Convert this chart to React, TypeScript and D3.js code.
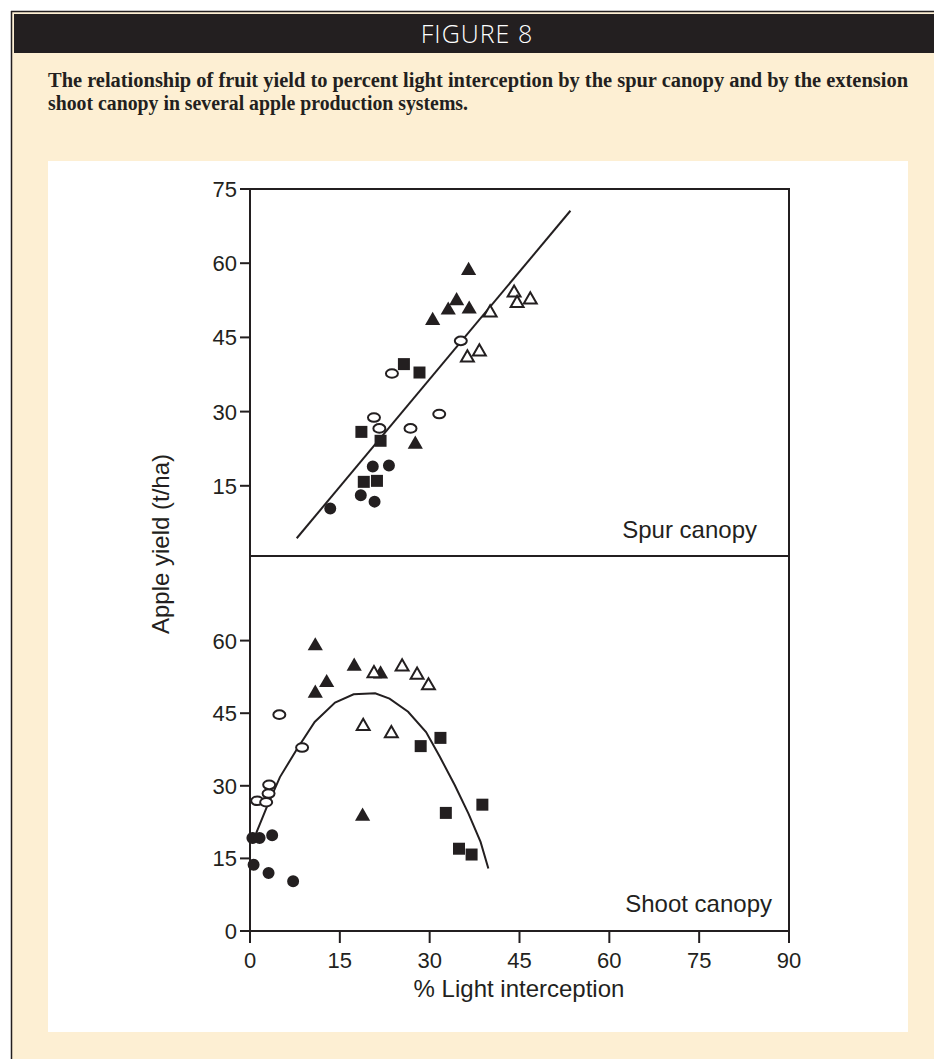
import { line, scaleLinear, symbol, symbolCircle, symbolSquare, symbolTriangle } from 'd3';

// values: [light interception %, yield t/ha]
const spurFilledCircle = [[13.4, 10.4], [18.5, 13.1], [20.8, 11.8], [20.5, 18.9], [23.2, 19.1]];
const spurFilledSquare = [[18.6, 25.9], [21.8, 24.1], [19.0, 15.8], [21.2, 16.0], [25.7, 39.6], [28.3, 37.9]];
const spurOpenCircle = [[23.7, 37.7], [20.7, 28.8], [21.6, 26.6], [26.8, 26.6], [31.6, 29.5], [35.2, 44.3]];
const spurFilledTriangle = [[27.6, 23.4], [30.5, 48.4], [33.1, 50.5], [34.5, 52.4], [36.6, 50.7], [36.5, 58.5]];
const spurOpenTriangle = [[36.3, 40.9], [38.3, 42.1], [40.1, 50.0], [44.1, 54.0], [44.6, 51.9], [46.8, 52.6]];
const spurFit = [[7.8, 4.4], [53.5, 70.6]];

const shootFilledCircle = [[0.4, 19.2], [1.6, 19.2], [3.7, 19.8], [0.6, 13.7], [3.1, 12.0], [7.2, 10.3]];
const shootOpenCircle = [[1.2, 26.9], [2.7, 26.6], [3.1, 28.4], [3.2, 30.2], [4.9, 44.7], [8.7, 37.9]];
const shootFilledTriangle = [[10.9, 58.9], [10.9, 49.1], [12.8, 51.3], [17.4, 54.7], [21.8, 53.1], [18.8, 23.7]];
const shootOpenTriangle = [[20.7, 53.2], [25.4, 54.6], [27.9, 52.9], [29.8, 50.7], [18.9, 42.3], [23.6, 40.8]];
const shootFilledSquare = [[28.5, 38.2], [31.8, 39.9], [32.7, 24.4], [38.8, 26.1], [34.9, 17.0], [37.0, 15.8]];
const shootFit = [
  [1.0, 20.1], [2.8, 25.6], [5.0, 31.8], [7.8, 37.5], [10.8, 43.2], [14.2, 47.2], [17.3, 48.9], [20.9, 49.1],
  [23.3, 48.0], [26.4, 45.3], [29.4, 41.1], [31.7, 36.0], [34.2, 30.1], [36.5, 24.2], [38.5, 18.4], [39.8, 12.9],
];

const xTicks = [0, 15, 30, 45, 60, 75, 90];
const spurTicks = [15, 30, 45, 60, 75];
const shootTicks = [0, 15, 30, 45, 60];

const INK = '#231f20';
const BEIGE = '#fdefd3';
const SANS = '"Liberation Sans", Arial, Helvetica, sans-serif';

const plot = { left: 250, right: 789, top: 189, mid: 556, bottom: 931 };

const x = scaleLinear().domain([0, 90]).range([plot.left, plot.right]);
const ySpur = scaleLinear().domain([0, 75]).range([560, plot.top]);
const yShoot = scaleLinear().domain([0, 75]).range([plot.bottom, 568]);

const circlePath = symbol().type(symbolCircle).size(113)()!;
const squarePath = symbol().type(symbolSquare).size(144)()!;
const trianglePath = symbol().type(symbolTriangle).size(100)()!;
const openTrianglePath = symbol().type(symbolTriangle).size(72)()!;

type Pt = number[];

function Markers({ pts, y, kind }: { pts: Pt[]; y: (v: number) => number; kind: string }) {
  return (
    <g>
      {pts.map((p, i) => {
        const t = `translate(${x(p[0])},${y(p[1])})`;
        if (kind === 'openCircle')
          return <ellipse key={i} cx={x(p[0])} cy={y(p[1])} rx={6} ry={4.3} fill="#fff" stroke={INK} strokeWidth={2} />;
        if (kind === 'openTriangle')
          return <path key={i} d={openTrianglePath} transform={t} fill="#fff" stroke={INK} strokeWidth={2} />;
        const d = kind === 'circle' ? circlePath : kind === 'square' ? squarePath : trianglePath;
        return <path key={i} d={d} transform={t} fill={INK} />;
      })}
    </g>
  );
}

export default function App() {
  const spurLine = line<Pt>().x((d) => x(d[0])).y((d) => ySpur(d[1]));
  const shootLine = line<Pt>().x((d) => x(d[0])).y((d) => yShoot(d[1]));

  return (
    <div style={{ position: 'absolute', left: 0, top: 0 }}>
      <svg width={934} height={1059} style={{ display: 'block' }}>
        <rect x={11} y={11} width={923} height={1048} fill={BEIGE} />
        <line x1={11.5} y1={11} x2={11.5} y2={1059} stroke={INK} strokeWidth={1.5} />
        <line x1={11} y1={11.5} x2={934} y2={11.5} stroke={INK} strokeWidth={1.5} />
        <rect x={14} y={14} width={920} height={39} fill={INK} />
        <text x={477} y={43} textAnchor="middle" fill="#fff" fontFamily='"Open Sans", "Noto Sans", sans-serif' fontWeight={300} fontSize={25} letterSpacing={1}>
          FIGURE 8
        </text>
        <g fontFamily='"Liberation Serif", "DejaVu Serif", serif' fontWeight="bold" fontSize={20} fill={INK}>
          <text x={48} y={87} textLength={860} lengthAdjust="spacingAndGlyphs">
            The relationship of fruit yield to percent light interception by the spur canopy and by the extension
          </text>
          <text x={48} y={110} textLength={420} lengthAdjust="spacingAndGlyphs">
            shoot canopy in several apple production systems.
          </text>
        </g>

        <rect x={48} y={161} width={860} height={871} fill="#fff" />

        <g fontFamily={SANS} fill={INK}>
          {/* frame */}
          <rect x={plot.left} y={plot.top} width={plot.right - plot.left} height={plot.bottom - plot.top} fill="none" stroke={INK} strokeWidth={2} />
          <line x1={plot.left} x2={plot.right} y1={plot.mid} y2={plot.mid} stroke={INK} strokeWidth={2} />

          {/* y ticks */}
          {spurTicks.map((t) => (
            <g key={'s' + t} transform={`translate(${plot.left},${ySpur(t)})`}>
              <line x1={-10} x2={0} stroke={INK} strokeWidth={2} />
              <text x={-13} dy="0.36em" textAnchor="end" fontSize={22}>{t}</text>
            </g>
          ))}
          {shootTicks.map((t) => (
            <g key={'h' + t} transform={`translate(${plot.left},${yShoot(t)})`}>
              <line x1={-10} x2={0} stroke={INK} strokeWidth={2} />
              <text x={-13} dy="0.36em" textAnchor="end" fontSize={22}>{t}</text>
            </g>
          ))}
          {/* x ticks */}
          {xTicks.map((t) => (
            <g key={'x' + t} transform={`translate(${x(t)},${plot.bottom})`}>
              <line y1={0} y2={12} stroke={INK} strokeWidth={2} />
              <text y={37} textAnchor="middle" fontSize={22}>{t}</text>
            </g>
          ))}

          <text x={519} y={997} textAnchor="middle" fontSize={24}>% Light interception</text>
          <text transform="translate(169,544) rotate(-90)" textAnchor="middle" fontSize={24}>Apple yield (t/ha)</text>
          <text x={757} y={538} textAnchor="end" fontSize={24}>Spur canopy</text>
          <text x={772} y={912} textAnchor="end" fontSize={24}>Shoot canopy</text>
        </g>

        {/* fits */}
        <path d={spurLine(spurFit) ?? ''} fill="none" stroke={INK} strokeWidth={2} />
        <path d={shootLine(shootFit) ?? ''} fill="none" stroke={INK} strokeWidth={2} />

        {/* spur canopy */}
        <Markers pts={spurFilledCircle} y={ySpur} kind="circle" />
        <Markers pts={spurFilledSquare} y={ySpur} kind="square" />
        <Markers pts={spurOpenCircle} y={ySpur} kind="openCircle" />
        <Markers pts={spurFilledTriangle} y={ySpur} kind="triangle" />
        <Markers pts={spurOpenTriangle} y={ySpur} kind="openTriangle" />

        {/* shoot canopy */}
        <Markers pts={shootFilledCircle} y={yShoot} kind="circle" />
        <Markers pts={shootOpenCircle} y={yShoot} kind="openCircle" />
        <Markers pts={shootFilledTriangle} y={yShoot} kind="triangle" />
        <Markers pts={shootOpenTriangle} y={yShoot} kind="openTriangle" />
        <Markers pts={shootFilledSquare} y={yShoot} kind="square" />
      </svg>
    </div>
  );
}
